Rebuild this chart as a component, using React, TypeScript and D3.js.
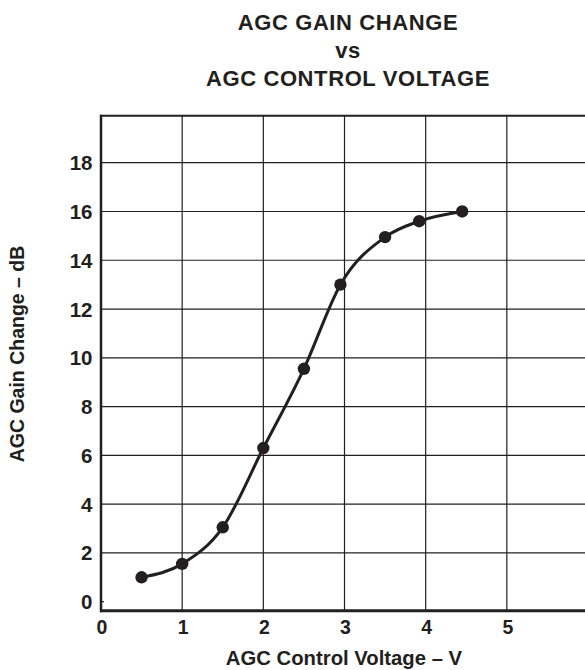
import React, { useEffect, useRef } from 'react';
import * as d3 from 'd3';

const voltage = [0.5, 1.0, 1.5, 2.0, 2.5, 2.95, 3.5, 3.92, 4.45];
const gainChange = [1.0, 1.55, 3.05, 6.3, 9.55, 13.0, 14.95, 15.6, 16.0];
const xTicks = [0, 1, 2, 3, 4, 5];
const yTicks = [0, 2, 4, 6, 8, 10, 12, 14, 16, 18];
const titleLines = ['AGC GAIN CHANGE', 'vs', 'AGC CONTROL VOLTAGE'];

const W = 585, H = 670;
const ink = '#231f20';
const font = 'Liberation Sans, Arial, sans-serif';

export default function App() {
  const ref = useRef<SVGSVGElement>(null);

  useEffect(() => {
    const svg = d3.select(ref.current);
    svg.selectAll('*').remove();

    const left = 101, right = 588, top = 115.7, bottom = 610.7;

    const x = d3.scaleLinear().domain([0, 6]).range([left, right]);
    const y = d3.scaleLinear().domain([0, 18]).range([601.7, 162.7]);

    // title
    svg.append('g')
      .selectAll('text')
      .data(titleLines)
      .enter()
      .append('text')
      .attr('x', 348)
      .attr('y', (d, i) => [29.5, 57.5, 85.5][i])
      .attr('text-anchor', 'middle')
      .attr('font-family', font)
      .attr('font-weight', 'bold')
      .attr('font-size', 22)
      .attr('letter-spacing', 0.6)
      .attr('fill', ink)
      .text(d => d);

    // grid
    const grid = svg.append('g').attr('stroke', ink).attr('stroke-width', 1.2);
    grid.selectAll('.hg')
      .data(yTicks.filter(d => d > 0))
      .enter()
      .append('line')
      .attr('x1', left).attr('x2', right)
      .attr('y1', d => y(d)).attr('y2', d => y(d));
    grid.selectAll('.vg')
      .data(xTicks.filter(d => d > 0))
      .enter()
      .append('line')
      .attr('y1', top).attr('y2', bottom)
      .attr('x1', d => x(d)).attr('x2', d => x(d));

    // small tick at 0
    svg.append('line')
      .attr('x1', left).attr('x2', left + 3)
      .attr('y1', y(0)).attr('y2', y(0))
      .attr('stroke', ink).attr('stroke-width', 1.2);

    // frame
    svg.append('line').attr('x1', left - 1).attr('x2', right).attr('y1', top).attr('y2', top)
      .attr('stroke', ink).attr('stroke-width', 2);
    svg.append('line').attr('x1', left).attr('x2', left).attr('y1', top - 1).attr('y2', bottom + 1.5)
      .attr('stroke', ink).attr('stroke-width', 2.5);
    svg.append('line').attr('x1', left - 1).attr('x2', right).attr('y1', bottom).attr('y2', bottom)
      .attr('stroke', ink).attr('stroke-width', 3);

    // tick labels
    svg.append('g')
      .selectAll('text')
      .data(yTicks)
      .enter()
      .append('text')
      .attr('x', 92.5)
      .attr('y', d => y(d) + 7.5)
      .attr('text-anchor', 'end')
      .attr('font-family', font)
      .attr('font-weight', 'bold')
      .attr('font-size', 20.5)
      .attr('fill', ink)
      .text(d => d);

    svg.append('g')
      .selectAll('text')
      .data(xTicks)
      .enter()
      .append('text')
      .attr('x', d => x(d) + 1)
      .attr('y', 633.5)
      .attr('text-anchor', 'middle')
      .attr('font-family', font)
      .attr('font-weight', 'bold')
      .attr('font-size', 19.5)
      .attr('fill', ink)
      .text(d => d);

    // axis titles
    svg.append('text')
      .attr('x', 344).attr('y', 665)
      .attr('text-anchor', 'middle')
      .attr('font-family', font).attr('font-weight', 'bold').attr('font-size', 20.3)
      .attr('fill', ink)
      .text('AGC Control Voltage – V');

    svg.append('text')
      .attr('transform', 'translate(23.5,354) rotate(-90)')
      .attr('text-anchor', 'middle')
      .attr('font-family', font).attr('font-weight', 'bold').attr('font-size', 19.5)
      .attr('fill', ink)
      .text('AGC Gain Change – dB');

    // curve + points
    const pts = voltage.map((v, i) => [v, gainChange[i]] as [number, number]);
    const line = d3.line<[number, number]>()
      .x(d => x(d[0]))
      .y(d => y(d[1]))
      .curve(d3.curveMonotoneX);

    svg.append('path')
      .attr('d', line(pts))
      .attr('fill', 'none')
      .attr('stroke', ink)
      .attr('stroke-width', 3);

    svg.append('g')
      .selectAll('circle')
      .data(pts)
      .enter()
      .append('circle')
      .attr('cx', d => x(d[0]))
      .attr('cy', d => y(d[1]))
      .attr('r', 6.2)
      .attr('fill', ink);
  }, []);

  return (
    <svg
      ref={ref}
      width={W}
      height={H}
      style={{ position: 'absolute', left: 0, top: 0, background: '#fff' }}
    />
  );
}
